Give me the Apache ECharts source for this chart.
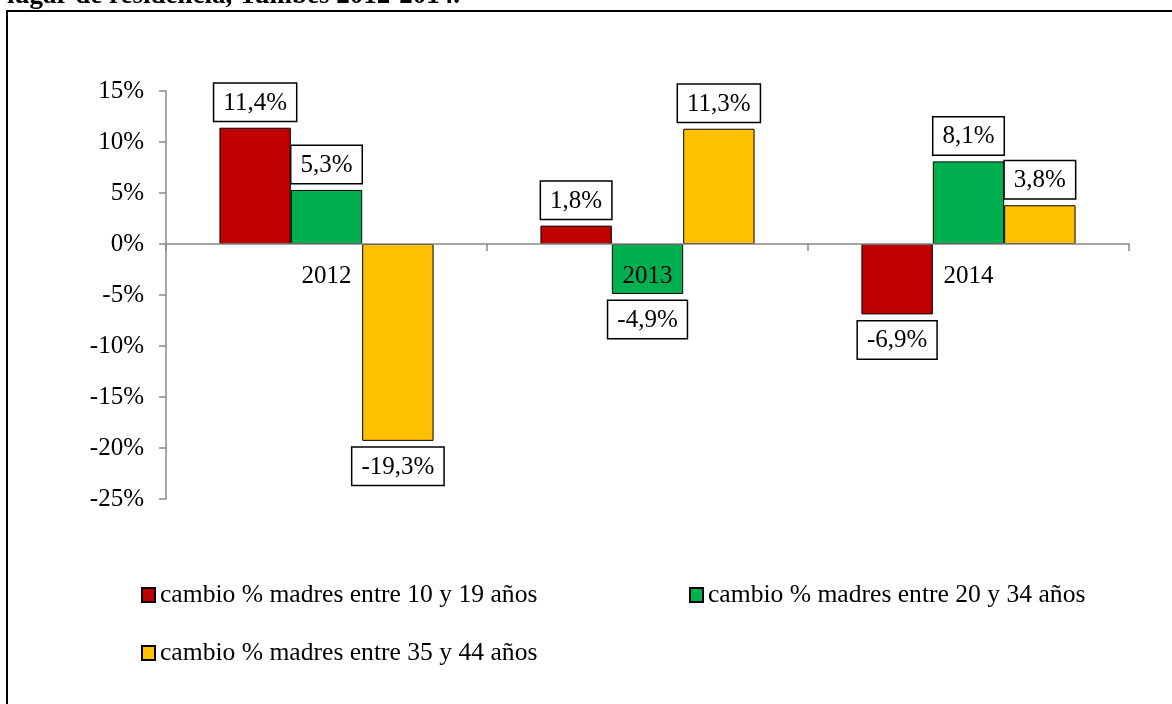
<!DOCTYPE html>
<html>
<head>
<meta charset="utf-8">
<script src="https://cdn.jsdelivr.net/npm/echarts@6/dist/echarts.min.js"></script>
<style>
html,body{margin:0;padding:0;background:#fff;}
#chart{width:1172px;height:704px;}
</style>
</head>
<body>
<div id="chart"></div>
<script>
const titleText = 'lugar de residencia, Tumbes 2012-2014.';
const categories = ['2012', '2013', '2014'];
const seriesNames = [
  'cambio % madres entre 10 y 19 años',
  'cambio % madres entre 20 y 34 años',
  'cambio % madres entre 35 y 44 años'
];
const values10a19 = [11.4, 1.8, -6.9];
const values20a34 = [5.3, -4.9, 8.1];
const values35a44 = [-19.3, 11.3, 3.8];
const yMin = -25, yMax = 15, yStep = 5;
const colors = ['#C00000', '#00B050', '#FFC000'];

const FONT = 'Liberation Serif';
const fmt = v => v.toFixed(1).replace('.', ',') + '%';

const gridTop = 91, gridBottom = 205, chartH = 704;
const gridH = chartH - gridTop - gridBottom;
const zeroOffset = -(0 - yMin) / (yMax - yMin) * gridH;

const allValues = [values10a19, values20a34, values35a44];
const series = allValues.map((vals, i) => ({
  name: seriesNames[i],
  type: 'bar',
  data: vals,
  barGap: '0%',
  barCategoryGap: '33.3%',
  itemStyle: { color: colors[i], borderColor: '#000', borderWidth: 1 },
  label: {
    show: true,
    position: 'outside',
    distance: 7,
    formatter: p => fmt(p.value),
    fontFamily: FONT,
    fontSize: 25,
    color: '#000',
    backgroundColor: '#fff',
    borderColor: '#000',
    borderWidth: 1.5,
    padding: [7, 9, 5, 9]
  }
}));

const legendPos = [[141, 582], [689, 582], [141, 640]];
const legends = seriesNames.map((n, i) => ({
  data: [{ name: n, icon: 'rect' }],
  left: legendPos[i][0],
  top: legendPos[i][1],
  padding: 0,
  itemWidth: 13,
  itemHeight: 14,
  itemGap: 0,
  textStyle: { fontFamily: FONT, fontSize: 25.6, color: '#000', padding: [0, 0, 0, 0] },
  selectedMode: false
}));

const chart = echarts.init(document.getElementById('chart'));
chart.setOption({
  animation: false,
  backgroundColor: '#fff',
  grid: { left: 166, right: 43, top: gridTop, bottom: gridBottom },
  legend: legends,
  xAxis: {
    type: 'category',
    data: categories,
    z: 5,
    offset: zeroOffset,
    axisLine: { onZero: false, lineStyle: { color: '#888', width: 1.5 } },
    axisTick: { show: true, length: 7, lineStyle: { color: '#888', width: 1.5 } },
    axisLabel: { fontFamily: FONT, fontSize: 25, color: '#000', margin: 20 }
  },
  yAxis: {
    type: 'value',
    min: yMin,
    max: yMax,
    interval: yStep,
    axisLine: { show: true, lineStyle: { color: '#888', width: 1.5 } },
    axisTick: { show: true, length: 7, lineStyle: { color: '#888', width: 1.5 } },
    splitLine: { show: false },
    axisLabel: { fontFamily: FONT, fontSize: 25, color: '#000', margin: 22, formatter: v => v + '%' }
  },
  graphic: [
    {
      type: 'rect',
      shape: { x: 7, y: 11, width: 1300, height: 900 },
      style: { fill: null, stroke: '#000', lineWidth: 2 },
      silent: true,
      z: 0
    },
    {
      type: 'text',
      left: 7,
      top: -17,
      style: { text: titleText, fontFamily: FONT, fontWeight: 'bold', fontSize: 27, fill: '#000' },
      silent: true
    }
  ],
  series: series
});
</script>
</body>
</html>
